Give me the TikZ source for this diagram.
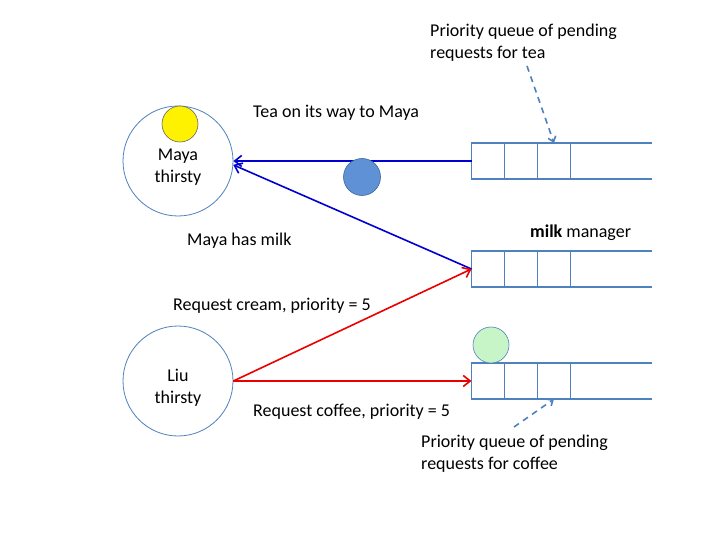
\documentclass[tikz,border=0pt]{standalone}
\usepackage{fontspec}
\setmainfont{Carlito}
\usetikzlibrary{arrows.meta,positioning}

\definecolor{qblue}{RGB}{79,129,189}
\definecolor{msgblue}{RGB}{0,0,210}
\definecolor{msgred}{RGB}{235,0,0}
\definecolor{ballblue}{RGB}{95,145,215}
\definecolor{mintgreen}{RGB}{200,245,200}

\tikzset{
  person/.style={circle,draw=qblue,line width=0.8pt,minimum size=110pt,inner sep=0pt},
  cell/.style={rectangle,draw=qblue,line width=1.6pt,minimum width=33pt,minimum height=36pt,inner sep=0pt,outer sep=0pt},
  qline/.style={draw=qblue,line width=1.6pt},
  token/.style={circle,inner sep=0pt,minimum size=37pt,line width=0.6pt},
  msg/.style={line width=1.6pt,-{Straight Barb[length=7pt,width=11pt]}},
  hint/.style={draw=qblue,line width=1.6pt,dashed,dash pattern=on 6pt off 5pt,-{Straight Barb[length=5pt,width=8pt]}},
  txt/.style={inner sep=0pt,anchor=base west}
}

\begin{document}
\begin{tikzpicture}[x=1pt,y=-1pt,font=\fontsize{18}{22}\selectfont]
  \fill[white] (0,0) rectangle (720,540);
  \useasboundingbox (0,0) rectangle (720,540);

  % the two customers
  \node[person] (maya) at (178,161) {};
  \node[align=center,inner sep=0pt] (mayatxt) at (178,167) {Maya\\thirsty};
  \node[person] (liu) at (178,381) {};
  \node[align=center,inner sep=0pt] (liutxt) at (178,388) {Liu\\thirsty};

  % queues
  \node[cell] (tea1) at (488,161) {};
  \node[cell,right=0pt of tea1] (tea2) {};
  \node[cell,right=0pt of tea2] (tea3) {};
  \draw[qline] (tea3.north east) -- ++(81,0) (tea3.south east) -- ++(81,0);

  \node[cell] (milk1) at (488,269) {};
  \node[cell,right=0pt of milk1] (milk2) {};
  \node[cell,right=0pt of milk2] (milk3) {};
  \draw[qline] (milk3.north east) -- ++(81,0) (milk3.south east) -- ++(81,0);

  \node[cell] (coffee1) at (488,381) {};
  \node[cell,right=0pt of coffee1] (coffee2) {};
  \node[cell,right=0pt of coffee2] (coffee3) {};
  \draw[qline] (coffee3.north east) -- ++(81,0) (coffee3.south east) -- ++(81,0);

  % messages
  \draw[msg,msgblue] (tea1.west) -- (maya.east);
  \draw[msg,msgblue] (milk1.west) -- (maya.-4);
  \draw[msg,msgred] (liu.east) -- (milk1.west);
  \draw[msg,msgred] (liu.east) -- (coffee1.west);

  % tokens
  \node[token,draw=qblue!80!black,fill=ballblue] (teaball) at (362,177) {};
  \node[token,draw=black!60,fill=yellow,minimum size=36pt] (milkball) at (180,124) {};
  \node[token,draw=qblue,fill=mintgreen,minimum size=36pt] (coffeeball) at (491,345) {};

  % labels
  \node[align=left,inner sep=0pt,anchor=north west] (tealabel) at (430,24)
    {Priority queue of pending\\requests for tea};
  \node[align=left,inner sep=0pt,anchor=north west] (coffeelabel) at (421,435)
    {Priority queue of pending\\requests for coffee};
  \coordinate (teahint) at (527,66);
  \coordinate (coffeehint) at (514,427);
  \draw[hint] (teahint) -- (tea3.north);
  \draw[hint] (coffeehint) -- (coffee3.south);

  \node[txt] (teamsg) at (253,118) {Tea on its way to Maya};
  \node[txt] (milkmsg) at (187,245) {Maya has milk};
  \node[txt] (milkmgr) at (530,237) {\textbf{milk} manager};
  \node[txt] (creammsg) at (173,310) {Request cream, priority = 5};
  \node[txt] (coffeemsg) at (253,416) {Request coffee, priority = 5};
\end{tikzpicture}
\end{document}
